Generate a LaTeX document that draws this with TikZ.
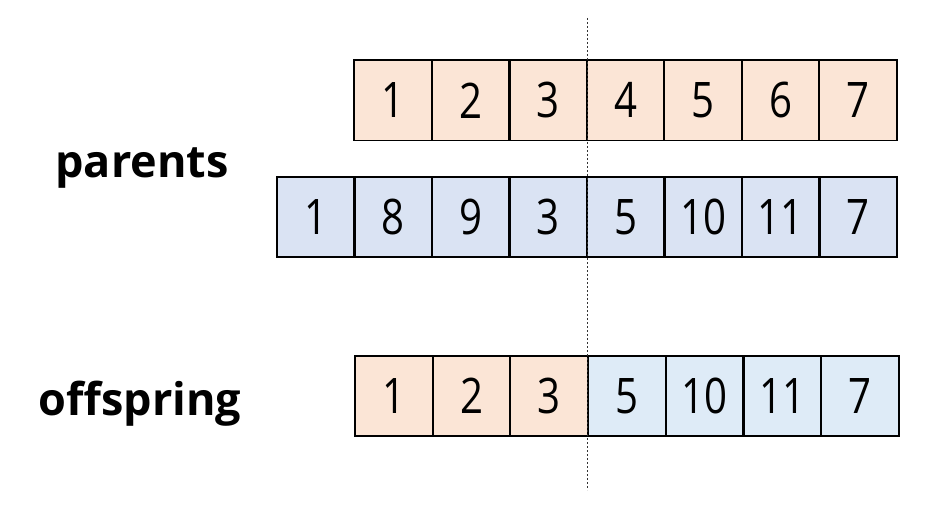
\documentclass[tikz,border=0pt]{standalone}
\usepackage{fontspec}
\setmainfont{Open Sans}
\newfontfamily\digitfont[FakeStretch=0.82]{Open Sans}
\definecolor{peach}{HTML}{FBE5D6}
\definecolor{blueA}{HTML}{DAE3F3}
\definecolor{blueB}{HTML}{DEEBF7}
\begin{document}
\begin{tikzpicture}[x=1pt,y=1pt,
  cell/.style={minimum width=77.5pt,minimum height=80pt,inner sep=0pt,font=\digitfont\fontsize{49}{52}\selectfont},
  pc/.style={cell,fill=peach},
  bc/.style={cell,fill=blueA},
  oc/.style={cell,fill=blueB},
  border/.style={draw=black,line width=1.9pt},
  lbl/.style={font=\fontsize{45}{48}\selectfont\bfseries,anchor=base}]
\useasboundingbox (0,0) rectangle (952,512);
% top parent
\foreach \v [count=\i] in {1,2,3,4,5,6,7}
  \node[pc] (t\i) at ({354.5+77.45*(\i-0.5)},411.7) {\v};
% second parent
\foreach \v [count=\i] in {1,8,9,3,5,10,11,7}
  \node[bc] (m\i) at ({277+77.5*(\i-0.5)},295.2) {\v};
% offspring
\foreach \v [count=\i] in {1,2,3}
  \node[pc] (o\i) at ({355+77.7*(\i-0.5)},116) {\v};
\foreach \v [count=\j from 4] in {5,10,11,7}
  \node[oc] (o\j) at ({355+77.7*(\j-0.5)},116) {\v};
% borders
\foreach \i in {1,...,7} \draw[border] (t\i.south west) rectangle (t\i.north east);
\foreach \i in {1,...,8} \draw[border] (m\i.south west) rectangle (m\i.north east);
\foreach \i in {1,...,7} \draw[border] (o\i.south west) rectangle (o\i.north east);
% labels
\node[lbl] (par) at (142,334) {parents};
\node[lbl] (off) at (140,97) {offspring};
% cut line
\coordinate (ctop) at (587.5,494);
\coordinate (cbot) at (587.5,22);
\draw[line width=0.7pt,black!80,dash pattern=on 2pt off 2pt] (ctop) -- (cbot);
\end{tikzpicture}
\end{document}
